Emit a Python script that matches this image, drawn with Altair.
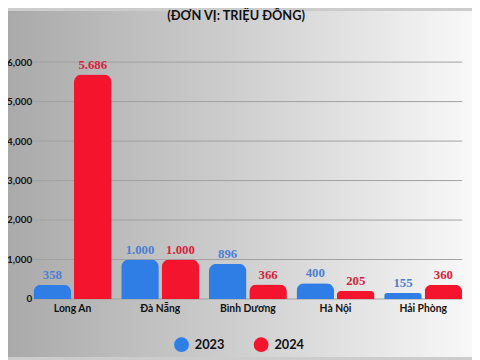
import altair as alt
import pandas as pd

provinces = ["Long An", "Đà Nẵng", "Bình Dương", "Hà Nội", "Hải Phòng"]
years = ["2023", "2024"]
v2023 = [358, 1000, 896, 400, 155]
v2024 = [5686, 1000, 366, 205, 360]
l2023 = ["358", "1.000", "896", "400", "155"]
l2024 = ["5.686", "1.000", "366", "205", "360"]
y_ticks = [0, 1000, 2000, 3000, 4000, 5000, 6000]
bar_colors = ["#2f7ee6", "#f5142e"]
label_colors = ["#4a80d4", "#d81f3c"]
title_text = "(ĐƠN VỊ: TRIỆU ĐỒNG)"

rows = []
for p, a, b, la, lb in zip(provinces, v2023, v2024, l2023, l2024):
    rows.append({"province": p, "year": years[0], "value": a, "label": la})
    rows.append({"province": p, "year": years[1], "value": b, "label": lb})
df = pd.DataFrame(rows)

x_enc = alt.X("province:N", sort=provinces,
              scale=alt.Scale(paddingInner=0.11, paddingOuter=0),
              axis=alt.Axis(title=None, labelAngle=0, ticks=False, domain=False, grid=False,
                            labelPadding=5, labelFont="Lato", labelFontSize=10.5,
                            labelFontWeight="bold", labelColor="#111111", zindex=1))
xo_enc = alt.XOffset("year:N", sort=years,
                     scale=alt.Scale(paddingInner=0.07, paddingOuter=0))
y_scale = alt.Scale(domain=[0, 6000], nice=False)
y_axis = alt.Axis(title=None, values=y_ticks, format=",.0f",
                  ticks=False, domain=False, grid=False, labelPadding=2,
                  labelFont="Lato", labelFontSize=10, labelFontWeight="bold",
                  labelColor="#111111", zindex=1)
y_enc = alt.Y("value:Q", scale=y_scale, axis=y_axis)

bg = alt.Chart(pd.DataFrame({"k": [0]})).mark_rect(
    fill=alt.Gradient(gradient="linear", x1=0, y1=0, x2=1, y2=0,
                      stops=[alt.GradientStop(offset=0, color="#aaaaaa"),
                             alt.GradientStop(offset=0.5, color="#cfcfcf"),
                             alt.GradientStop(offset=1, color="#f8f8f8")])
).encode(x=alt.value(-26), x2=alt.value(446), y=alt.value(-52), y2=alt.value(300))

grid = alt.Chart(pd.DataFrame({"value": y_ticks})).mark_rule(
    color="#a0a0a0", strokeWidth=1
).encode(y=y_enc, x=alt.value(0), x2=alt.value(436))

bars = alt.Chart(df).mark_bar(cornerRadiusTopLeft=8, cornerRadiusTopRight=8).encode(
    x=x_enc, xOffset=xo_enc, y=y_enc,
    color=alt.Color("year:N", sort=years,
                    scale=alt.Scale(domain=years, range=bar_colors),
                    legend=alt.Legend(title=None, orient="none", legendX=143, legendY=280,
                                      direction="horizontal", symbolType="circle",
                                      symbolSize=225, symbolStrokeWidth=0,
                                      labelFont="Lato", labelFontSize=13,
                                      labelFontWeight="bold", labelColor="#111111",
                                      labelOffset=6, columnPadding=29))
)

labels = alt.Chart(df).mark_text(font="Liberation Serif", fontSize=13, fontWeight="bold",
                                  baseline="alphabetic", dy=-6).encode(
    x=x_enc, xOffset=xo_enc, y=y_enc,
    text="label:N",
    color=alt.condition(alt.datum.year == years[0], alt.value(label_colors[0]),
                        alt.value(label_colors[1]))
)

title = alt.Chart(pd.DataFrame({"t": [title_text]})).mark_text(
    font="Lato", fontSize=13, fontWeight="bold", color="#111111", baseline="alphabetic"
).encode(x=alt.value(206), y=alt.value(-43), text="t:N")

chart = alt.layer(bg, grid, bars, labels, title).properties(
    width=436, height=241,
    padding={"left": 26, "top": 52, "right": 10, "bottom": 59},
    autosize=alt.AutoSizeParams(type="none"),
    background="#cccccc"
).configure_view(stroke=None)

chart.save("out.html", embed_options={"renderer": "svg", "actions": False})
